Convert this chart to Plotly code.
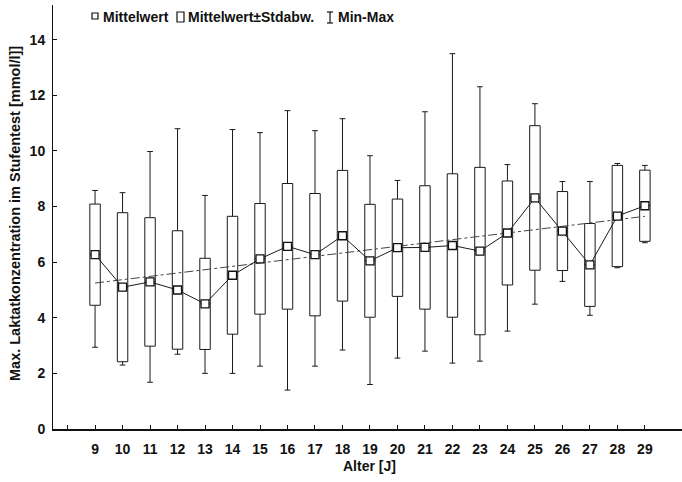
import plotly.graph_objects as go

# Age groups (years)
ages = [9, 10, 11, 12, 13, 14, 15, 16, 17, 18, 19, 20, 21, 22, 23, 24, 25, 26, 27, 28, 29]

# Mean maximal lactate per age group [mmol/l]
mean_lactate = [6.27, 5.10, 5.29, 5.00, 4.50, 5.53, 6.12, 6.57, 6.27, 6.95, 6.05,
                6.52, 6.53, 6.60, 6.40, 7.05, 8.31, 7.12, 5.90, 7.66, 8.03]

# Standard deviation per age group
sd_lactate = [1.82, 2.68, 2.31, 2.13, 1.64, 2.12, 1.99, 2.26, 2.20, 2.35, 2.03,
              1.75, 2.22, 2.58, 3.01, 1.87, 2.60, 1.42, 1.49, 1.82, 1.28]

# Observed minimum and maximum per age group
min_lactate = [2.94, 2.30, 1.68, 2.69, 2.00, 2.00, 2.26, 1.40, 2.26, 2.84, 1.60,
               2.55, 2.80, 2.37, 2.44, 3.52, 4.49, 5.31, 4.09, 5.80, 6.70]
max_lactate = [8.58, 8.50, 9.98, 10.80, 8.40, 10.77, 10.66, 11.45, 10.73, 11.16, 9.83,
               8.94, 11.41, 13.50, 12.31, 9.51, 11.70, 8.90, 8.90, 9.55, 9.48]

# Linear trend of the means (end points)
trend_x = [9, 29]
trend_y = [5.25, 7.65]

y_ticks = [0, 2, 4, 6, 8, 10, 12, 14]
x_ticks = [8] + ages
x_ticktext = [""] + [str(a) for a in ages]

FONT = "Liberation Sans, Arial, sans-serif"

q1 = [m - s for m, s in zip(mean_lactate, sd_lactate)]
q3 = [m + s for m, s in zip(mean_lactate, sd_lactate)]

fig = go.Figure()

# Mean ± SD boxes with Min-Max whiskers
fig.add_trace(go.Box(
    x=ages, q1=q1, median=mean_lactate, q3=q3,
    lowerfence=min_lactate, upperfence=max_lactate,
    boxpoints=False, width=0.38, whiskerwidth=0.55,
    fillcolor="white", line=dict(color="#1a1a1a", width=1),
    showlegend=False, hoverinfo="skip",
))

# Trend line
fig.add_trace(go.Scatter(
    x=trend_x, y=trend_y, mode="lines",
    line=dict(color="#444444", width=1, dash="dashdot"),
    showlegend=False, hoverinfo="skip",
))

# Means connected by a line
fig.add_trace(go.Scatter(
    x=ages, y=mean_lactate, mode="lines+markers",
    line=dict(color="#1a1a1a", width=1),
    marker=dict(symbol="square", size=8, color="white",
                line=dict(color="#111111", width=1.3)),
    showlegend=False, hoverinfo="skip",
))

fig.update_xaxes(
    range=[7.47, 30.35], tickvals=x_ticks, ticktext=x_ticktext,
    ticks="inside", ticklen=4, tickcolor="#111", tickwidth=1,
    showline=True, linecolor="#111", linewidth=1.6, mirror=False,
    showgrid=False, zeroline=False, ticklabelstandoff=6,
    tickfont=dict(family=FONT, size=14, color="#111", weight="bold"),
)
fig.update_yaxes(
    range=[0, 15.25], tickvals=y_ticks,
    ticks="inside", ticklen=4, tickcolor="#111", tickwidth=1,
    showline=True, linecolor="#111", linewidth=1, mirror=False,
    showgrid=False, zeroline=False, ticklabelstandoff=4,
    tickfont=dict(family=FONT, size=14, color="#111", weight="bold"),
)

W, H = 682, 482
L, R, T, B = 53, 0, 5, 53
pw, ph = W - L - R, H - T - B


def px(x):
    return (x - L) / pw


def py(y):
    return (H - B - y) / ph


annotations = [
    dict(text="Alter [J]", x=px(370), y=py(466), xref="paper", yref="paper",
         showarrow=False, xanchor="center", yanchor="middle",
         font=dict(family=FONT, size=14, color="#111", weight="bold")),
    dict(text="Max. Laktatkonzentration im Stufentest [mmol/l]]", x=px(15), y=py(214),
         xref="paper", yref="paper", showarrow=False, textangle=-90,
         xanchor="center", yanchor="middle",
         font=dict(family=FONT, size=14.5, color="#111", weight="bold")),
    dict(text="Mittelwert", x=px(101), y=py(17), xref="paper", yref="paper",
         showarrow=False, xanchor="left", yanchor="middle",
         font=dict(family=FONT, size=14, color="#111", weight="bold")),
    dict(text="Mittelwert±Stdabw.", x=px(186), y=py(17), xref="paper", yref="paper",
         showarrow=False, xanchor="left", yanchor="middle",
         font=dict(family=FONT, size=14, color="#111", weight="bold")),
    dict(text="Min-Max", x=px(336), y=py(17), xref="paper", yref="paper",
         showarrow=False, xanchor="left", yanchor="middle",
         font=dict(family=FONT, size=14, color="#111", weight="bold")),
]

line_k = dict(color="#111", width=1.2)
shapes = [
    # legend key: mean square
    dict(type="rect", xref="paper", yref="paper", x0=px(92), x1=px(98),
         y0=py(19), y1=py(13), line=line_k, fillcolor="white"),
    # legend key: SD box
    dict(type="rect", xref="paper", yref="paper", x0=px(177), x1=px(184),
         y0=py(22), y1=py(12), line=line_k, fillcolor="white"),
    # legend key: min-max whisker
    dict(type="line", xref="paper", yref="paper", x0=px(330), x1=px(330),
         y0=py(23), y1=py(12), line=line_k),
    dict(type="line", xref="paper", yref="paper", x0=px(327), x1=px(333),
         y0=py(12), y1=py(12), line=line_k),
    dict(type="line", xref="paper", yref="paper", x0=px(327), x1=px(333),
         y0=py(23), y1=py(23), line=line_k),
]

fig.update_layout(
    width=W, height=H,
    margin=dict(l=L, r=R, t=T, b=B),
    paper_bgcolor="white", plot_bgcolor="white",
    showlegend=False,
    annotations=annotations, shapes=shapes,
)

fig.write_html("out.html")
